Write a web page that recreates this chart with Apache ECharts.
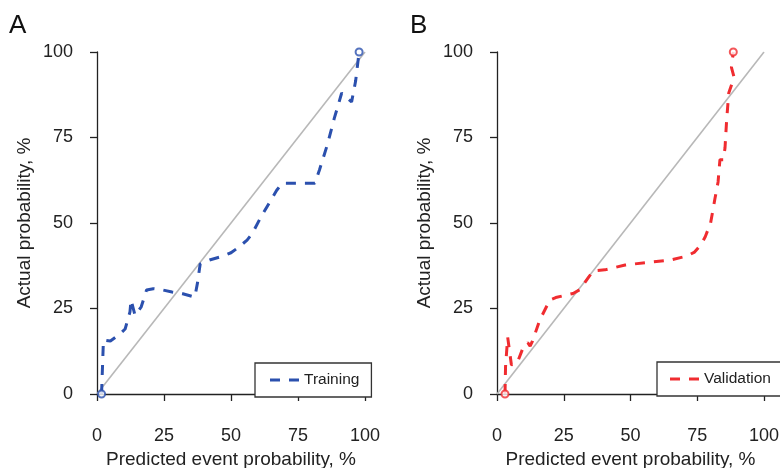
<!DOCTYPE html>
<html>
<head>
<meta charset="utf-8">
<script src="https://cdn.jsdelivr.net/npm/echarts@6/dist/echarts.min.js"></script>
<style>
  html, body { margin: 0; padding: 0; background: #fff; }
  #chart { width: 780px; height: 468px; }
</style>
</head>
<body>
<div id="chart"></div>
<script>
// calibration curves (percent)
const trainX = [1.7, 2.4, 5, 8.5, 10.5, 12.3, 12.7, 14.2, 16.5, 18.5, 21, 24, 28, 32, 36.5, 37.5, 38.5, 42, 46.5, 50, 53, 56, 58, 61, 64, 67, 69, 81.3, 83, 86, 88.5, 91.3, 95, 96.5, 97.8];
const trainY = [0, 15.8, 15.5, 17.5, 19, 24, 27.5, 23, 25.5, 30.4, 30.8, 30.5, 29.8, 29.3, 28.3, 32.5, 38, 39.2, 40.2, 41.3, 43, 45, 47, 51.5, 55.5, 59.5, 61.6, 61.6, 65.5, 73, 80.5, 88, 85.4, 91.5, 100];

const validX = [3, 3.2, 4, 5.4, 7.5, 9.5, 11.5, 12.4, 13.3, 16, 19.8, 22, 28.5, 31, 34, 36, 40.4, 48, 56.5, 65, 71, 74, 76.5, 78, 80, 81.6, 82.8, 83.5, 84.8, 85.4, 86, 86.8, 88.8, 87.8, 88.5];
const validY = [0, 8, 16.6, 8.5, 9, 13, 15, 14, 15.5, 21.6, 27.5, 28.2, 29.4, 30.5, 33.8, 36, 36.3, 37.7, 38.5, 39.2, 40.3, 41.5, 43.8, 46, 50, 57, 62, 68.5, 68.5, 72, 80, 88, 92.6, 95.5, 100];

const refLine = [[0, 0], [100, 100]];

const BLUE = '#2b50ae';
const RED = '#f02c30';
const INK = '#222';

function pairs(xs, ys) {
  return xs.map((x, i) => [x, ys[i]]);
}
function ends(xs, ys) {
  return [[xs[0], ys[0]], [xs[xs.length - 1], ys[ys.length - 1]]];
}

function makeX(gridIndex) {
  return {
    gridIndex: gridIndex,
    type: 'value',
    min: 0, max: 100, interval: 25,
    offset: 13,
    name: 'Predicted event probability, %',
    nameLocation: 'middle',
    nameGap: 43,
    nameTextStyle: { fontSize: 19, color: INK, fontFamily: 'Liberation Sans' },
    axisLine: { show: true, lineStyle: { color: INK, width: 1.3 } },
    axisTick: { show: true, length: 7, lineStyle: { color: INK, width: 1.3 } },
    axisLabel: { margin: 20, fontSize: 18, color: INK, fontFamily: 'Liberation Sans' },
    splitLine: { show: false }
  };
}
function makeY(gridIndex) {
  return {
    gridIndex: gridIndex,
    type: 'value',
    min: 0, max: 100, interval: 25,
    offset: 11,
    name: 'Actual probability, %',
    nameLocation: 'middle',
    nameGap: 52,
    nameTextStyle: { fontSize: 19, color: INK, fontFamily: 'Liberation Sans' },
    axisLine: { show: true, lineStyle: { color: INK, width: 1.3 } },
    axisTick: { show: true, length: 7, lineStyle: { color: INK, width: 1.3 } },
    axisLabel: { margin: 13, fontSize: 18, color: INK, fontFamily: 'Liberation Sans' },
    splitLine: { show: false }
  };
}

const dashIcon = 'path://M0,0H10V3H0Z M19,0H29V3H19Z';

const chart = echarts.init(document.getElementById('chart'), null, { renderer: 'canvas' });
chart.setOption({
  animation: false,
  backgroundColor: '#fff',
  title: [
    { text: 'A', left: 9, top: 13, padding: 0, textStyle: { fontSize: 26, fontWeight: 'normal', color: '#111', fontFamily: 'Liberation Sans' } },
    { text: 'B', left: 410, top: 13, padding: 0, textStyle: { fontSize: 26, fontWeight: 'normal', color: '#111', fontFamily: 'Liberation Sans' } }
  ],
  grid: [
    { left: 97, right: 415, top: 52, bottom: 74, outerBoundsMode: 'none' },
    { left: 497, right: 16, top: 52, bottom: 74, outerBoundsMode: 'none' }
  ],
  xAxis: [makeX(0), makeX(1)],
  yAxis: [makeY(0), makeY(1)],
  legend: [
    {
      data: [{ name: 'Training', icon: dashIcon, itemStyle: { color: BLUE } }],
      left: 255, top: 363,
      itemWidth: 29, itemHeight: 3,
      padding: [9, 12, 9, 15],
      borderColor: '#333', borderWidth: 1.3, borderRadius: 0,
      backgroundColor: '#fff',
      textStyle: { fontSize: 15.5, color: INK, fontFamily: 'Liberation Sans' },
      selectedMode: false
    },
    {
      data: [{ name: 'Validation', icon: dashIcon, itemStyle: { color: RED } }],
      left: 657, top: 362,
      itemWidth: 29, itemHeight: 3,
      padding: [9, 12, 9, 13],
      borderColor: '#333', borderWidth: 1.3, borderRadius: 0,
      backgroundColor: '#fff',
      textStyle: { fontSize: 15.5, color: INK, fontFamily: 'Liberation Sans' },
      selectedMode: false
    }
  ],
  series: [
    {
      type: 'line', xAxisIndex: 0, yAxisIndex: 0, data: refLine,
      symbol: 'none', silent: true, z: 1,
      lineStyle: { color: '#b8b8b8', width: 1.6 }
    },
    {
      type: 'line', xAxisIndex: 1, yAxisIndex: 1, data: refLine,
      symbol: 'none', silent: true, z: 1,
      lineStyle: { color: '#b8b8b8', width: 1.6 }
    },
    {
      name: 'Training', type: 'line', xAxisIndex: 0, yAxisIndex: 0,
      data: pairs(trainX, trainY), symbol: 'none', z: 2,
      itemStyle: { color: BLUE },
      lineStyle: { color: BLUE, width: 3, type: [10, 9], cap: 'butt' }
    },
    {
      name: 'Validation', type: 'line', xAxisIndex: 1, yAxisIndex: 1,
      data: pairs(validX, validY), symbol: 'none', z: 2,
      itemStyle: { color: RED },
      lineStyle: { color: RED, width: 3, type: [10, 9], cap: 'butt' }
    },
    {
      type: 'scatter', xAxisIndex: 0, yAxisIndex: 0, data: ends(trainX, trainY),
      symbol: 'circle', symbolSize: 7, z: 3, silent: true,
      itemStyle: { color: '#fff', borderColor: BLUE, borderWidth: 2 }
    },
    {
      type: 'scatter', xAxisIndex: 1, yAxisIndex: 1, data: ends(validX, validY),
      symbol: 'circle', symbolSize: 7, z: 3, silent: true,
      itemStyle: { color: '#fff', borderColor: RED, borderWidth: 2 }
    }
  ]
});
</script>
</body>
</html>
